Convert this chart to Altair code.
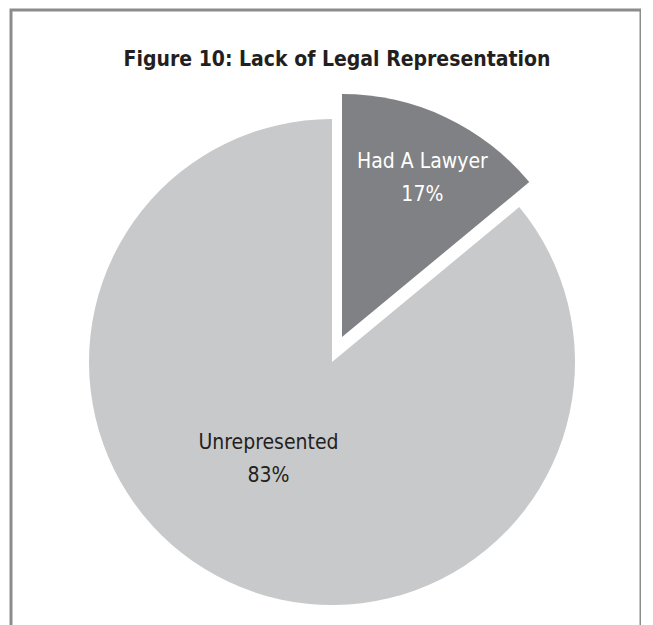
import altair as alt
import pandas as pd

# Data
categories = ["Had A Lawyer", "Unrepresented"]
slice_share = [14, 86]          # share as drawn (angle of each slice)
label_pct = ["17%", "83%"]      # percentages printed on the slices
order = [1, 2]

df = pd.DataFrame({
    "category": categories,
    "value": slice_share,
    "pct": label_pct,
    "order": order,
})

FONT = "Liberation Sans Narrow, DejaVu Sans Condensed, Roboto, sans-serif"
CX, CY, R = 321, 352, 243

base = (
    alt.Chart(df)
    .transform_joinaggregate(total="sum(value)")
    .transform_window(cum="sum(value)", sort=[alt.SortField("order")])
    .transform_calculate(
        start="(datum.cum - datum.value) / datum.total * 2 * PI",
        end="datum.cum / datum.total * 2 * PI",
        mid="(datum.cum - datum.value / 2) / datum.total * 2 * PI",
        label="datum.category + '\\n' + datum.pct",
    )
)

unrep = base.transform_filter(alt.datum.category == "Unrepresented")
lawyer = base.transform_filter(alt.datum.category == "Had A Lawyer")

unrep_arc = unrep.mark_arc(outerRadius=R, color="#c8c9cb").encode(
    theta=alt.Theta("start:Q", scale=None),
    theta2="end:Q",
    x=alt.value(CX), y=alt.value(CY),
)
lawyer_arc = lawyer.mark_arc(outerRadius=R, color="#808184", xOffset=10, yOffset=-25).encode(
    theta=alt.Theta("start:Q", scale=None),
    theta2="end:Q",
    x=alt.value(CX), y=alt.value(CY),
)

unrep_text = unrep.mark_text(
    radius=114, font=FONT, fontSize=21, color="#231f20", lineBreak="\n", lineHeight=33,
    align="center", baseline="middle", dx=-15, dy=-22,
).encode(
    theta=alt.Theta("mid:Q", scale=None),
    text="label:N",
    x=alt.value(CX), y=alt.value(CY),
)
lawyer_text = lawyer.mark_text(
    radius=177, font=FONT, fontSize=21, color="#ffffff", lineBreak="\n", lineHeight=33,
    align="center", baseline="middle", xOffset=10, yOffset=-25, dx=5, dy=-15,
).encode(
    theta=alt.Theta("mid:Q", scale=None),
    text="label:N",
    x=alt.value(CX), y=alt.value(CY),
)

chart = (
    alt.layer(unrep_arc, lawyer_arc, unrep_text, lawyer_text)
    .properties(
        width=630,
        height=640,
        padding={"left": 11, "top": 10, "right": 0, "bottom": 0},
        autosize=alt.AutoSizeParams(type="none"),
        title=alt.TitleParams(
            "Figure 10: Lack of Legal Representation",
            font=FONT, fontSize=21, fontWeight="bold", color="#231f20",
            anchor="middle", offset=-60, dx=11,
        ),
        background="#ffffff",
    )
    .configure_view(stroke="#8c8c8c", strokeWidth=3)
)

chart.save("out.html", embed_options={"renderer": "svg", "actions": False})
